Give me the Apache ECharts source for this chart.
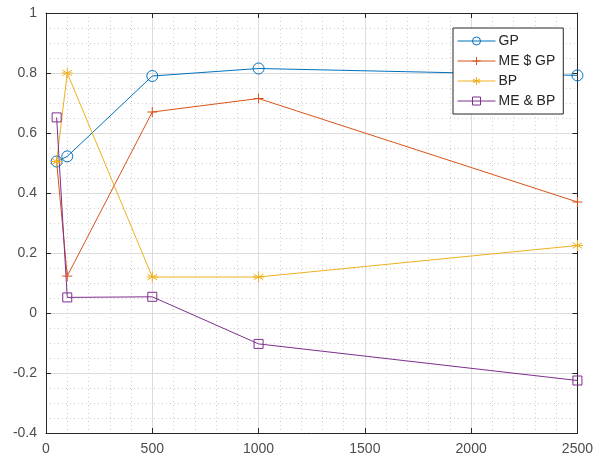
<!DOCTYPE html>
<html>
<head>
<meta charset="utf-8">
<script src="https://cdn.jsdelivr.net/npm/echarts@6/dist/echarts.min.js"></script>
<style>
  html, body { margin: 0; padding: 0; background: #fff; }
  #chart { width: 596px; height: 459px; }
</style>
</head>
<body>
<div id="chart"></div>
<script>
// Sample sizes along the x axis
const sizes = [50, 100, 500, 1000, 2500];

// Series values per sample size
const gp     = [0.505, 0.522, 0.790, 0.815, 0.792];
const meGp   = [0.505, 0.123, 0.670, 0.715, 0.370];
const bp     = [0.505, 0.800, 0.120, 0.120, 0.225];
const meBp   = [0.652, 0.052, 0.054, -0.103, -0.225];

const seriesNames = ['GP', 'ME $ GP', 'BP', 'ME & BP'];

const colors = ['#0072BD', '#D95319', '#EDB120', '#7E2F8E'];

// Outline-only marker shapes
const circlePath = 'path://M10,5 A5,5 0 1,1 0,5 A5,5 0 1,1 10,5 Z';
const plusPath = 'path://M5,0 L5,10 M0,5 L10,5';
const starPath = 'path://M5,0 L5,10 M0.67,2.5 L9.33,7.5 M0.67,7.5 L9.33,2.5 M0,5 L10,5';
const squarePath = 'path://M0,0 L10,0 L10,10 L0,10 Z';

const pairs = vals => sizes.map((x, i) => [x, vals[i]]);

const textColor = '#4d4d4d';
const fontFamily = 'Liberation Sans, Arial, sans-serif';

function mkSeries(name, vals, color, symbol, size) {
  return {
    name: name,
    type: 'line',
    data: pairs(vals),
    symbol: symbol,
    symbolSize: size,
    showAllSymbol: true,
    lineStyle: { color: color, width: 1 },
    itemStyle: { color: 'rgba(0,0,0,0)', borderColor: color, borderWidth: 1 },
    emphasis: { disabled: true },
    animation: false
  };
}

const chart = echarts.init(document.getElementById('chart'), null, { renderer: 'canvas' });

const baseAxisLine = { show: true, onZero: false, lineStyle: { color: '#262626', width: 1 } };
const tickStyle = { show: true, inside: true, length: 5, lineStyle: { color: '#262626' } };

chart.setOption({
  backgroundColor: '#ffffff',
  animation: false,
  color: colors,
  grid: { left: 46, right: 18, top: 13, bottom: 26, containLabel: false },
  legend: {
    orient: 'vertical',
    left: 453,
    top: 28,
    width: 108,
    padding: [6, 8, 6, 4],
    backgroundColor: '#ffffff',
    borderColor: '#262626',
    borderWidth: 1,
    itemWidth: 38,
    itemHeight: 10,
    itemGap: 6,
    lineStyle: { width: 1 },
    itemStyle: { borderWidth: 1 },
    textStyle: { fontSize: 14, color: '#262626', fontFamily: fontFamily, padding: [0, 0, 0, -2] },
    data: seriesNames
  },
  xAxis: [
    {
      type: 'value',
      min: 0, max: 2500, interval: 500,
      axisLine: baseAxisLine,
      axisTick: tickStyle,
      axisLabel: { color: textColor, fontSize: 14, fontFamily: fontFamily, margin: 9,
                   formatter: v => String(v) },
      splitLine: { show: true, lineStyle: { color: '#dcdcdc', width: 1 } },
      minorTick: { show: false, splitNumber: 5 },
      minorSplitLine: { show: true, lineStyle: { color: '#d0d0d0', width: 1, type: [1, 3] } }
    },
    {
      type: 'value', position: 'top',
      min: 0, max: 2500, interval: 500,
      axisLine: baseAxisLine,
      axisTick: tickStyle,
      axisLabel: { show: false },
      splitLine: { show: false }
    }
  ],
  yAxis: [
    {
      type: 'value',
      min: -0.4, max: 1, interval: 0.2,
      axisLine: baseAxisLine,
      axisTick: tickStyle,
      axisLabel: { color: textColor, fontSize: 14, fontFamily: fontFamily, margin: 9,
                   formatter: v => String(Math.round(v * 10) / 10) },
      splitLine: { show: true, lineStyle: { color: '#dcdcdc', width: 1 } },
      minorTick: { show: false, splitNumber: 4 },
      minorSplitLine: { show: true, lineStyle: { color: '#d0d0d0', width: 1, type: [1, 3] } }
    },
    {
      type: 'value', position: 'right',
      min: -0.4, max: 1, interval: 0.2,
      axisLine: baseAxisLine,
      axisTick: tickStyle,
      axisLabel: { show: false },
      splitLine: { show: false }
    }
  ],
  series: [
    mkSeries(seriesNames[0], gp, colors[0], circlePath, 11),
    mkSeries(seriesNames[1], meGp, colors[1], plusPath, 10),
    mkSeries(seriesNames[2], bp, colors[2], starPath, 11),
    mkSeries(seriesNames[3], meBp, colors[3], squarePath, 9)
  ]
});
</script>
</body>
</html>
